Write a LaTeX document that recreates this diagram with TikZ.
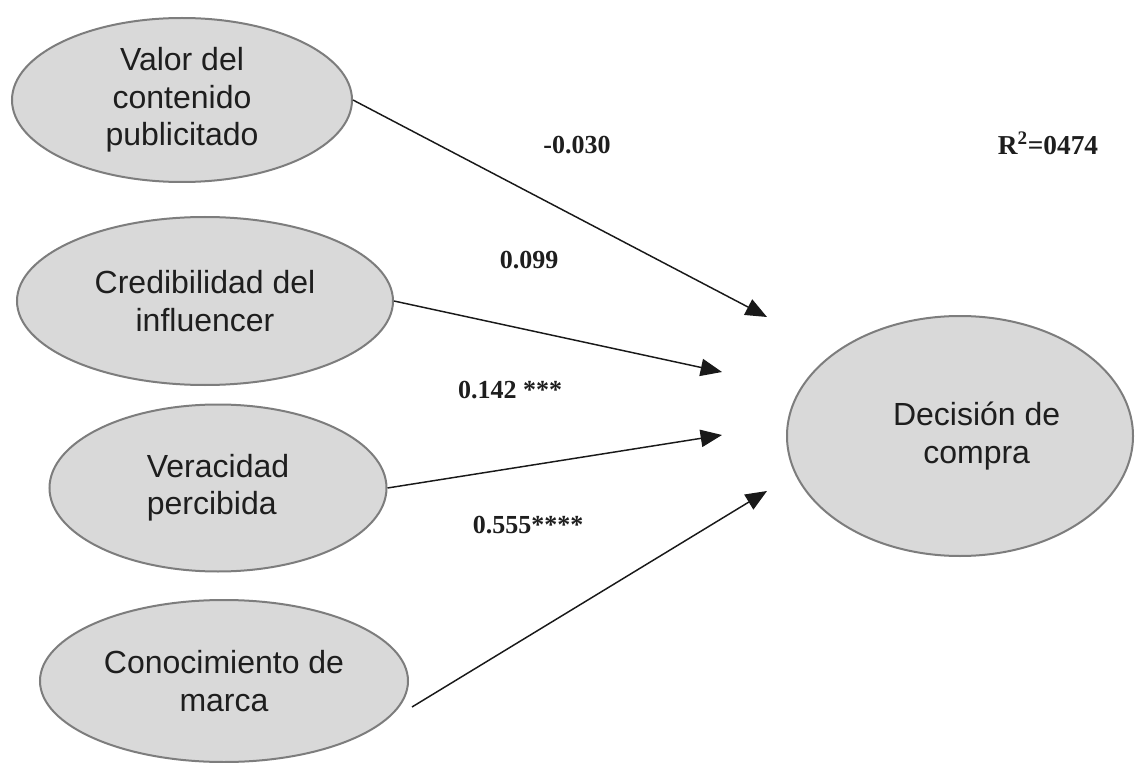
\documentclass[tikz,border=0pt]{standalone}
\usepackage{fontspec}
\setmainfont{Liberation Serif}
\newfontfamily\arialfont{Liberation Sans}
\usetikzlibrary{arrows.meta,shapes.geometric}
\definecolor{ellfill}{RGB}{217,217,217}
\definecolor{elldraw}{RGB}{125,125,125}
\definecolor{txt}{RGB}{30,30,30}
\tikzset{
  construct/.style={ellipse, draw=elldraw, line width=1.5pt, fill=ellfill, inner sep=0pt,
    align=center, text=txt, font=\arialfont\fontsize{24}{28}\selectfont},
  path/.style={draw=black!90, line width=1.1pt, -{Triangle[length=16pt,width=13pt]}},
  coef/.style={font=\fontsize{19.5}{23}\selectfont\bfseries, text=txt, inner sep=0pt}
}
\begin{document}
\begin{tikzpicture}[x=0.75pt,y=-0.75pt]
\useasboundingbox[fill=white] (0,0) rectangle (1136,763);
\node[construct, minimum width=255pt, minimum height=123pt] (e1) at (182,100) {Valor del\\contenido\\publicitado};
\node[construct, minimum width=282pt, minimum height=126pt] (e2) at (205,301) {Credibilidad del\\influencer};
\node[construct, minimum width=252.75pt, minimum height=125.25pt, align=left] (e3) at (218,488) {Veracidad\\percibida};
\node[construct, minimum width=276pt, minimum height=121.5pt] (e4) at (224,681) {Conocimiento de\\marca};
\node[construct, minimum width=259.5pt, minimum height=180pt] (e5) at (960,436) {\hspace*{25pt}Decisión de\\\hspace*{25pt}compra};
\coordinate (t1) at (767,317);
\coordinate (t2) at (722,372);
\coordinate (t3) at (722,435);
\coordinate (t4) at (767,491);
\coordinate (s4) at (412,707);
\path[path] (e1.east) -- (t1);
\path[path] (e2.east) -- (t2);
\path[path] (e3.east) -- (t3);
\path[path] (s4) -- (t4);
\node[coef] (c1) at (577,145) {-0.030};
\node[coef] (c2) at (529,260) {0.099};
\node[coef] (c3) at (510,390) {0.142 ***};
\node[coef] (c4) at (528,525) {0.555****};
\node[coef, font=\fontsize{20.5}{24}\selectfont\bfseries] (r2) at (1048,143) {R\textsuperscript{2}=0474};
\end{tikzpicture}
\end{document}
